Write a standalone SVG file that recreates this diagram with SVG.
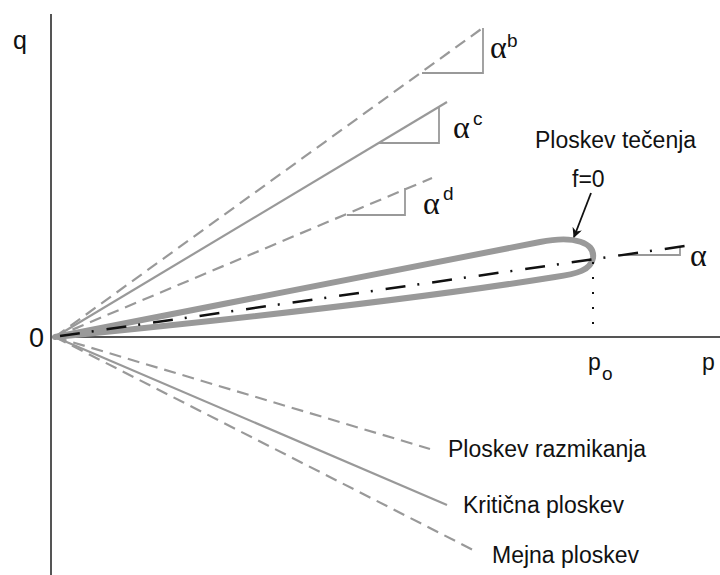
<svg xmlns="http://www.w3.org/2000/svg" width="720" height="575" viewBox="0 0 720 575">
<defs>
<style>
.ax{stroke:#555;stroke-width:2;fill:none}
.g{stroke:#999;stroke-width:2.2;fill:none}
.gd{stroke:#999;stroke-width:2.2;fill:none;stroke-dasharray:12 7}
.tri{stroke:#999;stroke-width:1.8;fill:none}
.t{font-family:"Liberation Sans",Arial,sans-serif;font-size:23px;fill:#111}
.s{font-family:"Liberation Sans",Arial,sans-serif;font-size:19px;fill:#111}
.a{font-family:"Liberation Serif","Times New Roman",serif;font-size:32px;fill:#111}
</style>
<marker id="ah" viewBox="0 0 10 10" refX="9" refY="5" markerWidth="10" markerHeight="10" orient="auto" markerUnits="userSpaceOnUse">
<path d="M0,0 L10,5 L0,10 L3,5 Z" fill="#111"/>
</marker>
</defs>
<rect width="720" height="575" fill="#fff"/>
<g id="axes">
<line class="ax" x1="51" y1="14" x2="51" y2="575"/>
<line class="ax" x1="51" y1="337" x2="720" y2="337"/>
<text class="t" x="13" y="49" style="font-size:25px">q</text>
<text class="t" x="29" y="347" style="font-size:27px">0</text>
<text class="t" x="702" y="370">p</text>
<text class="t" x="588" y="370">p</text>
<text class="s" x="602" y="380">o</text>
</g>
<g id="connectors">
<line class="gd" x1="55" y1="337" x2="484" y2="27"/>
<line class="g" x1="55" y1="337" x2="447" y2="102"/>
<line class="gd" x1="55" y1="337" x2="432" y2="178"/>
<line class="gd" x1="55" y1="337" x2="430" y2="449"/>
<line class="g" x1="55" y1="337" x2="447" y2="505"/>
<line class="gd" x1="55" y1="337" x2="477" y2="552"/>
<polyline class="tri" points="422,73 483,73 483,28"/>
<polyline class="tri" points="378,143 439,143 439,107"/>
<polyline class="tri" points="347,215 405,215 405,188"/>
<polyline class="tri" points="618,255 680,255 680,246"/>
</g>
<g id="yield-surface">
<path d="M55,337 L540,242 C575,235 595,243 593,258 C591,270 577,274 555,277 Q380,305 55,337 Z" fill="none" stroke="#999" stroke-width="6" stroke-linejoin="round"/>
<line x1="60" y1="336" x2="685" y2="246" stroke="#111" stroke-width="2.5" stroke-dasharray="20 12 2 13"/>
<line x1="593" y1="262" x2="593" y2="337" stroke="#111" stroke-width="2" stroke-dasharray="2 13"/>
<line x1="591" y1="193" x2="574" y2="237" stroke="#111" stroke-width="1.8" marker-end="url(#ah)"/>
<text class="t" x="572" y="187">f=0</text>
<text class="t" x="535" y="148">Ploskev tečenja</text>
</g>
<g id="labels">
<text class="a" x="490" y="58">α</text><text class="s" x="507" y="47">b</text>
<text class="a" x="453" y="138">α</text><text class="s" x="473" y="125">c</text>
<text class="a" x="423" y="214">α</text><text class="s" x="443" y="200">d</text>
<text class="a" x="690" y="266">α</text>
<text class="t" x="448" y="457">Ploskev razmikanja</text>
<text class="t" x="463" y="513">Kritična ploskev</text>
<text class="t" x="492" y="563">Mejna ploskev</text>
</g>
</svg>
